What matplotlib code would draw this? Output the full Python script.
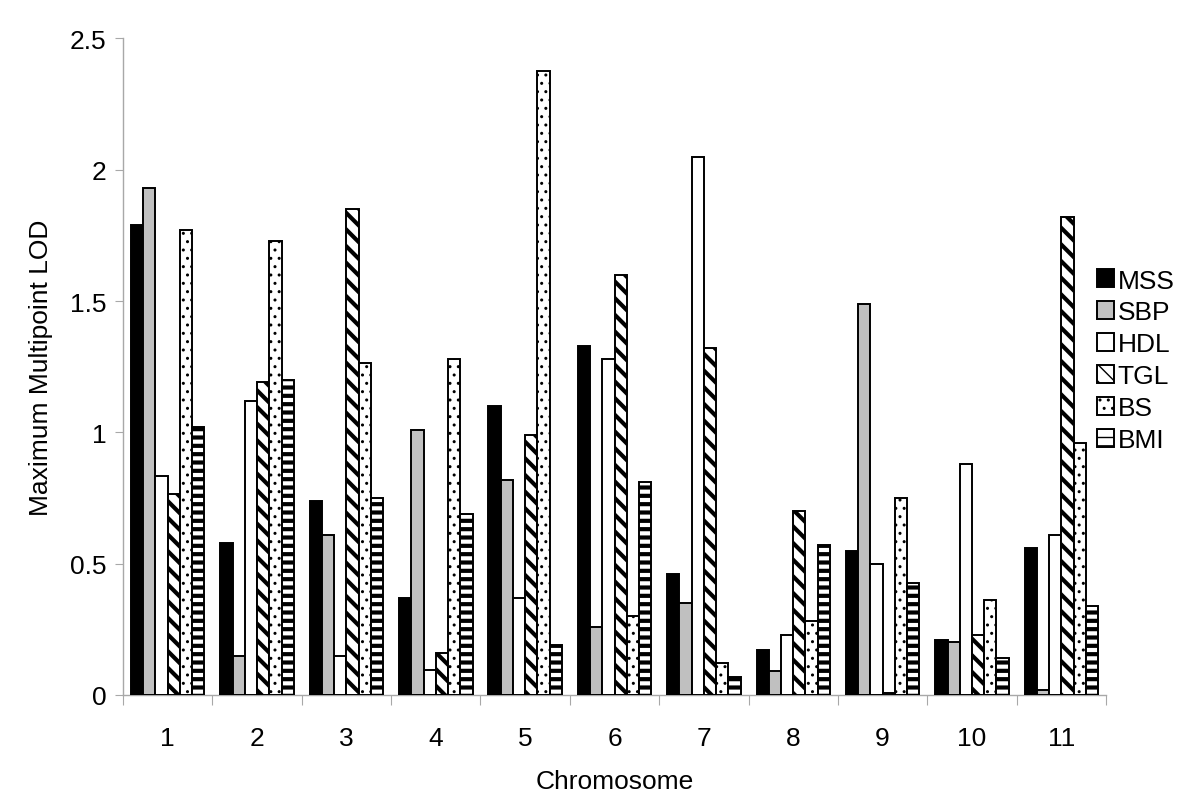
import matplotlib
matplotlib.use("Agg")
import matplotlib.pyplot as plt
import numpy as np

chromosomes = ["1", "2", "3", "4", "5", "6", "7", "8", "9", "10", "11"]
series_names = ["MSS", "SBP", "HDL", "TGL", "BS", "BMI"]

mss = [1.79, 0.58, 0.74, 0.37, 1.10, 1.33, 0.46, 0.17, 0.55, 0.21, 0.56]
sbp = [1.93, 0.15, 0.61, 1.01, 0.82, 0.26, 0.35, 0.09, 1.49, 0.20, 0.02]
hdl = [0.835, 1.12, 0.15, 0.095, 0.37, 1.28, 2.05, 0.23, 0.50, 0.88, 0.61]
tgl = [0.765, 1.19, 1.85, 0.16, 0.99, 1.60, 1.32, 0.70, 0.008, 0.23, 1.82]
bs = [1.77, 1.73, 1.265, 1.28, 2.375, 0.30, 0.12, 0.28, 0.75, 0.36, 0.96]
bmi = [1.02, 1.20, 0.75, 0.69, 0.19, 0.81, 0.07, 0.57, 0.425, 0.14, 0.34]

y_ticks = [0, 0.5, 1, 1.5, 2, 2.5]
y_tick_labels = ["0", "0.5", "1", "1.5", "2", "2.5"]

values = [mss, sbp, hdl, tgl, bs, bmi]
facecolors = ["black", "#c0c0c0", "white", "white", "white", "white"]
hatches = [None, None, None, "\\\\", "..", "--"]
hatch_lw = [1.0, 1.0, 1.0, 3.0, 1.0, 3.0]

plt.rcParams["font.family"] = ["Liberation Sans", "DejaVu Sans"]

fig = plt.figure(figsize=(12, 8.12), dpi=100)
ax = fig.add_axes([0.1025, 0.1429, 0.8192, 0.8085])

x = np.arange(len(chromosomes))
w = 0.137
handles = []
for i, (vals, fc, h, hl) in enumerate(zip(values, facecolors, hatches, hatch_lw)):
    with plt.rc_context({"hatch.linewidth": hl, "hatch.color": "black"}):
        bars = ax.bar(x + (i - 2.5) * w, vals, width=w, color=fc,
                      edgecolor="black", linewidth=1.4, hatch=h,
                      label=series_names[i], zorder=3)
        for b in bars:
            if hasattr(b, "set_hatch_linewidth"):
                b.set_hatch_linewidth(hl)
    handles.append(bars)

ax.set_xlim(-0.5, len(chromosomes) - 0.5)
ax.set_ylim(0, 2.5)

gray = "#a8a8a8"
for s in ["top", "right"]:
    ax.spines[s].set_visible(False)
for s in ["left", "bottom"]:
    ax.spines[s].set_color(gray)
    ax.spines[s].set_linewidth(1.0)

ax.set_yticks(y_ticks)
ax.set_yticklabels(y_tick_labels)
ax.set_xticks(np.arange(len(chromosomes) + 1) - 0.5)
ax.set_xticklabels([])
ax.set_xticks(x, minor=True)
ax.set_xticklabels(chromosomes, minor=True)
ax.tick_params(axis="x", which="major", direction="out", length=7, color=gray)
ax.tick_params(axis="x", which="minor", length=0, pad=22, labelsize=19)
ax.tick_params(axis="y", direction="out", length=6, color=gray, labelsize=19, pad=6)

ax.set_xlabel("Chromosome", fontsize=19, labelpad=14)
ax.set_ylabel("Maximum Multipoint LOD", fontsize=19, labelpad=12)

leg = ax.legend(handles=handles, labels=series_names, loc="center left",
                bbox_to_anchor=(0.905, 0.555), bbox_transform=fig.transFigure,
                frameon=False, fontsize=19, handlelength=0.65, handleheight=0.65,
                handletextpad=0.15, labelspacing=0.3, borderaxespad=0)
for p in leg.get_patches():
    p.set_linewidth(1.4)

fig.savefig("out.png", dpi=100)
